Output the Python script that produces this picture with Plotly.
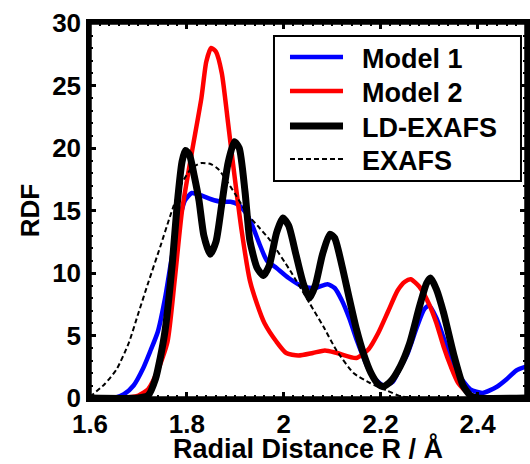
import plotly.graph_objects as go

# ---- data ----
model1_x = [1.60, 1.65, 1.67, 1.69, 1.71, 1.725, 1.74, 1.755, 1.77, 1.786, 1.796, 1.81, 1.83, 1.85,
            1.87, 1.89, 1.905, 1.92, 1.935, 1.95, 1.965, 1.985, 2.01, 2.04, 2.065, 2.09, 2.105, 2.12,
            2.135, 2.15, 2.165, 2.18, 2.205, 2.225, 2.24, 2.255, 2.275, 2.29, 2.30, 2.315, 2.33,
            2.345, 2.36, 2.385, 2.41, 2.44, 2.46, 2.48, 2.50]
model1_y = [0.0, 0.0, 0.3, 1.0, 2.4, 3.8, 5.3, 8.0, 11.5, 14.5, 15.8, 16.4, 16.2, 15.9,
            15.7, 15.7, 15.5, 14.9, 13.8, 12.3, 11.0, 10.4, 9.6, 8.9, 8.8, 9.1, 8.8, 7.8,
            6.4, 4.7, 3.2, 1.9, 1.0, 1.3, 2.4, 3.5, 5.7, 7.1, 7.4, 6.4, 4.8,
            3.1, 1.9, 0.7, 0.4, 0.9, 1.5, 2.2, 2.5]

model2_x = [1.60, 1.66, 1.70, 1.72, 1.74, 1.76, 1.775, 1.79, 1.81, 1.83, 1.84, 1.85, 1.86, 1.872,
            1.885, 1.895, 1.913, 1.93, 1.945, 1.96, 1.985, 2.005, 2.03, 2.06, 2.085, 2.11, 2.15,
            2.175, 2.195, 2.215, 2.235, 2.25, 2.262, 2.28, 2.30, 2.315, 2.33, 2.345, 2.36, 2.38,
            2.40, 2.50]
model2_y = [0.0, 0.0, 0.2, 0.7, 2.2, 4.5, 9.5, 15.0, 19.6, 24.0, 26.9, 28.0, 27.7, 26.0,
            22.0, 18.8, 13.4, 9.4, 7.5, 6.0, 4.5, 3.6, 3.4, 3.6, 3.8, 3.6, 3.2,
            3.9, 5.2, 6.9, 8.6, 9.3, 9.5, 8.9, 7.5, 6.0, 4.1, 2.5, 1.2, 0.4,
            0.05, 0.0]

ldexafs_x = [1.60, 1.70, 1.72, 1.735, 1.745, 1.755, 1.77, 1.78, 1.79, 1.797, 1.805, 1.815, 1.825,
             1.835, 1.848, 1.86, 1.872, 1.885, 1.898, 1.908, 1.92, 1.93, 1.945, 1.958, 1.97,
             1.985, 1.998, 2.01, 2.025, 2.04, 2.053, 2.065, 2.08, 2.095, 2.105, 2.12, 2.135,
             2.15, 2.165, 2.18, 2.195, 2.205, 2.22, 2.24, 2.26, 2.28, 2.295, 2.303, 2.315,
             2.33, 2.35, 2.37, 2.385, 2.40, 2.50]
ldexafs_y = [0.0, 0.0, 0.2, 1.5, 3.2, 5.4, 10.8, 15.5, 18.9, 19.8, 19.5, 17.8, 15.8,
             13.0, 11.5, 12.5, 15.5, 18.8, 20.5, 20.0, 16.5, 12.6, 10.4, 9.8, 10.6,
             13.2, 14.4, 13.8, 11.5, 9.2, 8.0, 9.0, 11.5, 13.1, 12.8, 10.6, 8.0,
             5.5, 3.5, 2.0, 1.1, 0.9, 1.3, 2.5, 4.4, 7.3, 9.2, 9.6, 8.7,
             6.8, 3.6, 1.0, 0.2, 0.0, 0.0]

exafs_x = [1.60, 1.63, 1.655, 1.68, 1.70, 1.72, 1.745, 1.765, 1.79, 1.81, 1.83, 1.85, 1.865,
           1.88, 1.90, 1.925, 1.95, 1.972, 2.013, 2.053, 2.082, 2.109, 2.144, 2.178, 2.213,
           2.24, 2.28, 2.50]
exafs_y = [0.1, 1.1, 2.3, 4.4, 6.8, 9.2, 12.1, 14.5, 17.2, 18.4, 18.8, 18.7, 18.3,
           17.5, 16.3, 14.7, 13.6, 12.6, 10.2, 7.6, 5.7, 3.8, 2.0, 1.2, 0.6,
           0.15, 0.0, 0.0]

series_names = ["Model 1", "Model 2", "LD-EXAFS", "EXAFS"]
x_ticks = [1.6, 1.8, 2.0, 2.2, 2.4]
x_ticklabels = ["1.6", "1.8", "2", "2.2", "2.4"]
y_ticks = [0, 5, 10, 15, 20, 25, 30]

FONT = "Liberation Sans, Arial, sans-serif"

styles = [
    dict(color="#0000ff", width=4.5),
    dict(color="#ff0000", width=4.5),
    dict(color="#000000", width=7),
    dict(color="#000000", width=2, dash="5px,3px"),
]
data = [(model1_x, model1_y), (model2_x, model2_y), (ldexafs_x, ldexafs_y), (exafs_x, exafs_y)]

fig = go.Figure()
for (xs, ys), name, st in zip(data, series_names, styles):
    fig.add_trace(go.Scatter(x=xs, y=ys, mode="lines", name=name, showlegend=False,
                             line=dict(shape="spline", smoothing=0.6, **st)))

axis_common = dict(
    showline=True, linecolor="black", linewidth=3.5, mirror="allticks",
    ticks="inside", ticklen=6, tickwidth=2.5, tickcolor="black",
    showgrid=False, zeroline=False, automargin=False,
    tickfont=dict(family=FONT, size=26, color="black", weight="bold"),
)

fig.update_xaxes(range=[1.6, 2.5], tickvals=x_ticks, ticktext=x_ticklabels,
                 minor=dict(dtick=0.02, tick0=1.6, ticks="inside", ticklen=3, tickwidth=1.5, tickcolor="black"),
                 title=dict(text="Radial Distance R / Å", font=dict(family=FONT, size=27, color="black", weight="bold"),
                            standoff=17),
                 **axis_common)
fig.update_yaxes(range=[0, 30], tickvals=y_ticks,
                 minor=dict(dtick=1, tick0=0, ticks="inside", ticklen=3, tickwidth=1.5, tickcolor="black"),
                 title=dict(text="RDF", font=dict(family=FONT, size=26, color="black", weight="bold"),
                            standoff=6),
                 **axis_common)

# ---- plot frame and legend box drawn in paper coordinates ----
shapes = [dict(type="rect", xref="paper", yref="paper", x0=0, x1=1, y0=0, y1=1,
               line=dict(color="black", width=3.5), layer="above"),
          dict(type="rect", xref="paper", yref="paper", x0=0.422, x1=0.9885, y0=0.5787, y1=0.9653,
               line=dict(color="black", width=2), fillcolor="white", layer="above")]
annotations = []
row_y = [0.9093, 0.8187, 0.7253, 0.6373]
for name, st, ry in zip(series_names, styles, row_y):
    shapes.append(dict(type="line", xref="paper", yref="paper", x0=0.4587, x1=0.5803, y0=ry, y1=ry,
                       line=st, layer="above"))
    annotations.append(dict(text=name, xref="paper", yref="paper", x=0.6193, y=ry,
                            xanchor="left", yanchor="middle", showarrow=False, yshift=-2,
                            font=dict(family=FONT, size=27, color="black", weight="bold")))

fig.update_layout(
    width=530, height=464,
    margin=dict(l=90, r=4, t=23, b=66),
    plot_bgcolor="white", paper_bgcolor="white",
    showlegend=False,
    shapes=shapes, annotations=annotations,
)

# remove the page's default body margin so the 530x464 figure fills the window exactly
fig.write_html("out.html", config={"displayModeBar": False},
               post_script="document.body.style.margin='0';document.body.style.overflow='hidden';")
